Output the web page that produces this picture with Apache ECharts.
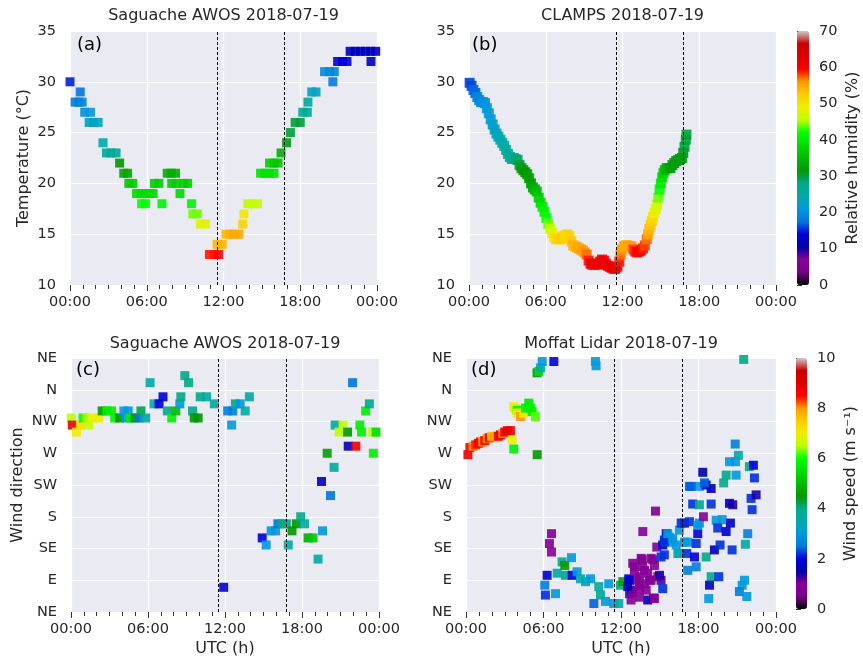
<!DOCTYPE html>
<html>
<head>
<meta charset="utf-8">
<script src="https://cdn.jsdelivr.net/npm/echarts@6/dist/echarts.min.js"></script>
<style>
  html, body { margin: 0; padding: 0; background: #fff; }
  #chart { width: 863px; height: 661px; }
</style>
</head>
<body>
<div id="chart"></div>
<script>
// (a) Saguache AWOS temperature, hours UTC / degC / RH %
const awosTime = [0.0, 0.4, 0.7, 0.95, 0.8, 1.15, 1.6, 1.5, 1.85, 2.2, 2.58, 2.85, 3.2, 3.6, 3.88, 4.2, 4.5, 4.6, 4.9,
  5.2, 5.55, 5.85, 6.2, 6.5, 5.6, 5.9, 6.6, 6.95, 7.19, 7.6, 7.9, 8.25, 7.95, 8.3, 8.9, 9.2, 8.6, 9.5, 9.6, 9.95,
  10.2, 10.6, 10.9, 11.25, 11.6, 11.5, 11.9, 12.2, 12.5, 12.85, 13.2, 13.5, 13.6, 13.9, 14.25, 14.65, 14.9, 15.25,
  15.6, 15.95, 15.6, 15.95, 16.27, 16.5, 16.93, 17.23, 17.6, 18.0, 18.2, 18.55, 18.6, 18.9, 19.23, 19.9, 20.3, 20.66,
  20.55, 20.92, 21.3, 21.65, 21.9, 22.3, 22.7, 23.1, 23.5, 23.9, 23.53];
const awosTemp = [30, 28, 28, 28, 29, 27, 27, 26, 26, 26, 24, 23, 23, 23, 22, 21, 21, 20, 20,
  19, 19, 19, 19, 19, 18, 18, 20, 20, 18, 21, 21, 21, 20, 20, 20, 20, 19, 18, 17, 17,
  16, 16, 13, 13, 13, 14, 14, 15, 15, 15, 15, 16, 17, 18, 18, 18, 21, 21,
  21, 21, 22, 22, 22, 23, 24, 25, 26, 26, 27, 27, 28, 29, 29, 31, 31, 31,
  30, 32, 32, 32, 33, 33, 33, 33, 33, 33, 32];
const awosRH = [15, 18, 18, 19, 17.5, 20, 21, 22, 23, 23, 24.5, 26.5, 26.5, 27, 31.5, 33, 33, 36, 37,
  38.5, 38.5, 38.5, 38.5, 38.5, 42, 42, 37, 37, 41, 34, 34, 34, 37, 37, 37, 37, 38, 41, 44, 44,
  48, 48, 59, 59, 59.5, 54, 54, 54, 54.5, 55, 55, 52, 50, 46, 46, 46, 39, 39,
  39, 39, 37, 37, 36, 34, 31, 30, 30, 30, 27, 27, 26, 23, 23, 19.5, 19.5, 19,
  18, 14, 14, 14, 12, 12, 12, 12, 12, 12, 12.5];

// (b) CLAMPS temperature
const clampsTime = [0.05, 0.2, 0.35, 0.5, 0.65, 0.8, 0.95, 1.1, 1.25, 1.4, 1.55, 1.7, 1.85, 2.0, 2.15, 2.3, 2.45, 2.6,
  2.75, 2.9, 3.05, 3.2, 3.35, 3.5, 3.65, 3.8, 3.95, 4.1, 4.25, 4.4, 4.55, 4.7, 4.85, 5.0, 5.15, 5.3, 5.45, 5.6, 5.75,
  5.9, 6.05, 6.2, 6.35, 6.5, 6.65, 6.8, 6.95, 7.1, 7.25, 7.4, 7.55, 7.7, 7.85, 8.0, 8.15, 8.3, 8.45, 8.6, 8.75, 8.9,
  9.05, 9.2, 9.35, 9.5, 9.65, 9.8, 9.95, 10.1, 10.25, 10.4, 10.55, 10.7, 10.85, 11.0, 11.15, 11.3, 11.45, 11.6, 11.75,
  11.85, 11.95, 12.1, 12.25, 12.4, 12.55, 12.7, 12.85, 13.0, 13.15, 13.3, 13.45, 13.6, 13.75, 13.9, 14.0, 14.1, 14.2,
  14.3, 14.4, 14.5, 14.6, 14.7, 14.8, 14.9, 15.0, 15.1, 15.2, 15.3, 15.45, 15.6, 15.75, 15.9, 16.05, 16.2, 16.35,
  16.5, 16.65, 16.75, 16.85, 16.95, 17.0];
const clampsTemp = [29.9, 29.6, 29.2, 28.9, 28.5, 28.2, 28.0, 28.0, 27.9, 27.4, 26.9, 26.3, 25.8, 25.3, 24.9, 24.6, 24.3, 24.0,
  23.7, 23.3, 22.9, 22.6, 22.4, 22.5, 22.4, 22.3, 21.8, 21.5, 21.3, 21.1, 20.9, 20.5, 20.0, 19.6, 19.4, 19.2, 18.6, 18.1, 17.7,
  17.2, 16.6, 16.0, 15.5, 15.1, 14.7, 14.5, 14.5, 14.5, 14.6, 14.8, 14.9, 15.0, 14.8, 14.3, 13.9, 13.8, 13.7, 13.6, 13.5, 13.4,
  13.2, 13.0, 12.4, 12.1, 12.0, 12.0, 12.1, 12.0, 12.3, 12.5, 12.4, 12.1, 11.9, 11.8, 11.7, 11.6, 11.6, 11.8, 12.3,
  13.0, 13.5, 13.8, 13.9, 13.9, 13.8, 13.8, 13.5, 13.3, 13.2, 13.3, 13.4, 13.6, 13.9, 14.5, 15.0, 15.5, 15.9,
  16.3, 16.7, 17.1, 17.5, 17.9, 18.6, 19.4, 20.0, 20.6, 21.0, 21.3, 21.5, 21.5, 21.5, 21.8, 22.0, 22.2, 22.3,
  22.4, 22.5, 23.0, 23.6, 24.3, 24.8];
const clampsRH = [16, 16, 17, 17, 19, 19, 19.5, 20, 20, 21, 21, 21.5, 22, 22.5, 23, 23.5, 24, 24.5,
  25, 25.5, 26, 27, 27, 28, 28, 29, 30, 31, 31, 31.5, 32, 32, 32, 33, 34, 35, 37, 38, 40,
  41, 42, 44, 46, 48, 50, 51, 52, 52, 53, 52, 51, 51, 52, 53, 54, 54, 55, 55, 55, 56,
  56, 57, 59, 60, 61, 61, 61, 61, 61, 61, 61, 61, 61, 61, 62, 62, 62, 61, 59,
  57, 56, 55, 55, 55, 55, 56, 58, 59, 60, 60, 60, 59, 58, 57, 55, 54, 53,
  52, 51, 49, 48, 47, 44, 42, 40, 39, 37, 36, 34, 33, 32, 32, 31, 31, 31,
  31, 31, 31, 30, 30, 30];

// (c) Saguache AWOS wind, direction in degrees (45 = NE ... 405 = NE), speed m/s
const awosWindTime = [0.02, 0.1, 0.42, 0.73, 0.94, 1.25, 1.38, 1.77, 2.17, 2.43, 2.8, 3.16, 3.4, 3.78, 4.12, 4.3, 4.46,
  4.64, 4.98, 5.3, 5.45, 5.82, 6.16, 6.47, 6.86, 7.17, 7.51, 7.85, 8.17, 8.48, 8.56, 8.87, 9.16, 9.47, 9.6, 9.91,
  10.07, 10.57, 11.17, 11.9, 12.21, 12.6, 12.52, 12.81, 13.18, 13.57, 13.9, 14.9, 15.21, 15.6, 15.94, 16.12, 16.46,
  16.78, 16.93, 17.22, 17.56, 17.9, 18.2, 18.47, 18.86, 19.25, 19.6, 19.52, 20.22, 20.5, 19.96, 20.58, 20.9, 21.2,
  21.55, 21.6, 22.2, 21.94, 22.51, 22.64, 22.96, 23.25, 23.5, 23.77, 23.56];
const awosWindDir = [320, 310, 300, 310, 320, 320, 310, 320, 320, 330, 330, 330, 320, 320, 330, 320, 330,
  320, 320, 320, 330, 320, 370, 340, 340, 350, 330, 320, 330, 340, 350, 380, 370, 330, 320, 320,
  350, 350, 340, 80, 330, 330, 310, 340, 340, 330, 350, 150, 140, 160, 160, 170, 170,
  170, 140, 160, 170, 180, 170, 150, 150, 120, 160, 230, 210, 250, 270, 310, 300, 310,
  300, 280, 280, 370, 310, 300, 330, 340, 300, 300, 270];
const awosWindSpd = [6.5, 8.8, 7.0, 7.3, 6.0, 6.5, 6.6, 7.0, 7.0, 4.5, 5.8, 5.8, 5.8, 4.5, 3.0, 3.0, 3.0,
  5.8, 4.5, 2.5, 4.2, 3.5, 3.5, 3.6, 2.0, 2.0, 4.0, 5.8, 5.0, 3.0, 4.0, 4.0, 4.0, 4.0, 4.5, 4.5,
  4.0, 3.6, 3.6, 2.0, 2.6, 2.6, 3.0, 4.0, 3.0, 3.5, 3.6, 2.0, 3.0, 3.0, 3.0, 2.5, 4.0,
  4.0, 3.6, 4.5, 4.5, 4.0, 3.6, 4.8, 5.2, 3.6, 3.0, 1.8, 2.5, 3.6, 4.6, 3.6, 6.5, 6.5,
  4.5, 1.6, 8.8, 2.5, 5.8, 5.8, 5.8, 4.0, 6.5, 5.5, 5.8];

// (d) Moffat lidar wind
const lidarTime = [0.15, 0.3, 0.55, 0.75, 0.95, 1.12, 1.3, 1.45, 1.64, 1.8, 1.97, 2.15, 2.34, 2.5, 2.67, 2.85, 3.0, 3.2,
  3.44, 3.57, 3.7, 3.7, 3.85, 3.96, 3.96, 4.22, 4.47, 4.6, 4.86, 4.99, 5.12, 5.38, 5.51, 5.5, 5.64, 5.77, 5.9, 6.8,
  10.02, 10.07, 21.5, 6.62, 6.46, 6.62, 6.28, 6.1, 6.15, 6.93, 7.06, 7.44, 7.65, 8.17, 7.7, 8.22, 8.6, 8.86, 9.25,
  9.64, 9.9, 10.28, 10.41, 10.8, 11.05, 11.44, 11.83, 11.96, 12.14, 12.6, 12.66, 12.79, 14.67, 13.69, 14.77, 12.91,
  13.64, 14.46, 14.59, 13.04, 13.43, 13.82, 14.2, 14.85, 15.1, 12.91, 13.43, 13.95, 14.51, 14.07, 15.23, 15.5, 15.75,
  15.36, 16.0, 16.27, 15.23, 15.1, 16.52, 16.52, 16.91, 17.3, 18.07, 17.17, 17.09, 17.69, 17.82, 17.94, 18.59, 17.17,
  17.82, 17.3, 18.07, 18.59, 18.98, 18.33, 17.55, 18.07, 18.98, 18.38, 19.37, 19.83, 19.49, 20.14, 20.47, 19.23,
  19.67, 20.6, 20.4, 20.65, 21.81, 21.63, 22.15, 22.07, 22.46, 22.33, 20.14, 20.91, 18.98, 19.57, 18.85, 21.56,
  21.38, 21.17, 21.74, 18.79, 20.84, 21.09, 20.4, 20.86, 21.94, 22.25, 19.95, 18.46, 17.43,
  13.56, 14.33, 13.69, 14.07, 13.3, 13.82, 14.33, 13.43, 12.78, 13.43, 14.59, 13.04, 14.98, 12.65, 12.52, 15.36,
  15.36, 15.62, 16.0, 16.4, 16.66, 17.94, 16.91];
const lidarDir = [268, 278, 280, 282, 284, 286, 286, 288, 291, 292, 294, 293, 294, 294, 296, 298, 300, 302,
  302, 289, 276, 336, 333, 331, 327, 322, 327, 334, 341, 334, 329, 322, 268, 384, 386, 391, 400, 400,
  400, 394, 403, 156, 142, 130, 97, 83, 69, 71, 100, 116, 111, 122, 97, 97, 102, 92, 88,
  92, 57, 81, 69, 60, 85, 57, 57, 83, 88, 92, 71, 76, 188, 159, 137, 114,
  119, 119, 111, 102, 95, 104, 90, 95, 90, 73, 83, 76, 65, 62, 78, 156, 151,
  147, 144, 140, 140, 123, 128, 161, 171, 173, 171, 144, 128, 123, 142, 156, 123, 104,
  109, 223, 223, 225, 220, 243, 198, 197, 198, 180, 175, 176, 164, 159, 171, 133,
  140, 133, 199, 197, 156, 141, 190, 206, 211, 235, 239, 239, 95, 95, 83, 90,
  83, 74, 67, 64, 283, 267, 258, 258, 251, 253, 228, 228, 223,
  121, 121, 109, 100, 90, 85, 90, 78, 62, 66, 64, 109, 97, 90, 81, 126,
  144, 156, 149, 128, 171, 168, 144];
const lidarSpd = [8.8, 8.6, 8.0, 8.4, 8.8, 8.6, 7.8, 8.6, 8.0, 8.8, 7.6, 8.0, 7.8, 8.6, 8.8, 8.0, 8.8, 8.8,
  8.8, 7.0, 5.8, 7.0, 6.6, 5.8, 7.0, 8.0, 7.0, 5.8, 5.6, 5.8, 5.8, 6.2, 4.5, 4.5, 5.5, 3.6, 3.0, 2.0,
  3.0, 3.0, 4.0, 0.9, 0.9, 1.0, 1.8, 2.6, 2.2, 3.0, 3.5, 4.0, 4.5, 3.0, 4.0, 2.0, 3.0, 3.5, 3.5,
  3.0, 2.4, 3.6, 3.8, 3.0, 3.0, 3.0, 3.6, 4.0, 4.6, 1.8, 2.2, 1.3, 0.8, 0.9, 0.9, 0.9,
  0.9, 0.9, 0.9, 0.9, 0.9, 0.9, 0.9, 0.9, 1.2, 0.9, 0.9, 0.9, 0.9, 1.6, 2.2, 1.8, 3.0,
  2.2, 3.0, 3.0, 1.8, 2.2, 3.0, 3.0, 1.6, 2.2, 3.0, 3.0, 2.2, 2.0, 2.2, 2.0, 4.0, 2.6,
  2.6, 2.4, 3.0, 2.0, 1.6, 1.5, 2.2, 4.0, 2.2, 1.0, 3.0, 3.0, 2.2, 1.8, 1.8, 1.6,
  2.2, 2.2, 1.8, 1.4, 2.6, 3.6, 2.2, 2.2, 1.4, 2.2, 4.0, 3.0, 3.8, 2.2, 1.8, 3.0,
  3.0, 2.6, 3.0, 3.0, 2.6, 3.6, 3.0, 3.0, 4.0, 2.0, 4.0, 2.4, 2.4,
  0.9, 0.9, 0.9, 0.9, 0.9, 0.9, 0.9, 0.9, 0.9, 0.9, 0.9, 0.9, 1.4, 2.0, 1.6, 2.2,
  2.2, 3.0, 3.0, 3.4, 2.2, 3.0, 3.0];

// dashed reference times (h UTC)
const markTimes = [11.5, 16.75];
const tempTicks = [10, 35, 5];
const dirNames = ['NE', 'E', 'SE', 'S', 'SW', 'W', 'NW', 'N', 'NE'];
const panelTitles = ['Saguache AWOS 2018-07-19', 'CLAMPS 2018-07-19', 'Saguache AWOS 2018-07-19', 'Moffat Lidar 2018-07-19'];
const panelTags = ['(a)', '(b)', '(c)', '(d)'];

// nipy_spectral
const nipy = ['#000000', '#770088', '#880099', '#0000aa', '#0000dd', '#0077dd', '#0099dd', '#00aaaa', '#00aa88',
  '#009900', '#00bb00', '#00dd00', '#00ff00', '#bbff00', '#eeee00', '#ffcc00', '#ff9900', '#ff0000', '#dd0000',
  '#cc0000', '#cccccc'];

const FONT = 'DejaVu Sans';
const TXT = '#262626';

const grids = [
  {left: 70, top: 31, width: 307, height: 254},
  {left: 469, top: 31, width: 307, height: 254},
  {left: 71, top: 358, width: 308, height: 254},
  {left: 466, top: 358, width: 310, height: 254},
  {left: 797, top: 31, width: 12, height: 254},
  {left: 796, top: 358, width: 11, height: 251}
];

function zip(t, a, b) { return t.map((v, i) => [v, a[i], b[i]]); }

function timeAxis(i, withName) {
  return {
    type: 'value', gridIndex: i, min: 0, max: 24, interval: 6,
    name: withName ? 'UTC (h)' : '', nameLocation: 'middle', nameGap: 29,
    nameTextStyle: {fontFamily: FONT, fontSize: 16, color: TXT},
    axisLine: {show: false},
    axisTick: {show: true, length: 6, lineStyle: {color: '#333', width: 1}},
    minorTick: {show: true, splitNumber: 6, length: 4, lineStyle: {color: '#333', width: 1}},
    splitLine: {show: true, lineStyle: {color: '#fff', width: 1.2}},
    axisLabel: {margin: 10, fontFamily: FONT, fontSize: 14.5, color: TXT,
      formatter: v => String(v % 24).padStart(2, '0') + ':00'}
  };
}

function tempAxis(i, name) {
  return {
    type: 'value', gridIndex: i, min: tempTicks[0], max: tempTicks[1], interval: tempTicks[2],
    name: name, nameLocation: 'middle', nameGap: 38,
    nameTextStyle: {fontFamily: FONT, fontSize: 16, color: TXT},
    axisLine: {show: false}, axisTick: {show: false},
    splitLine: {show: true, lineStyle: {color: '#fff', width: 1.2}},
    axisLabel: {margin: 14, fontFamily: FONT, fontSize: 14.5, color: TXT}
  };
}

function dirAxis(i, name) {
  return {
    type: 'value', gridIndex: i, min: 45, max: 405, interval: 45,
    name: name, nameLocation: 'middle', nameGap: 45,
    nameTextStyle: {fontFamily: FONT, fontSize: 16, color: TXT},
    axisLine: {show: false}, axisTick: {show: false},
    splitLine: {show: true, lineStyle: {color: '#fff', width: 1.2}},
    axisLabel: {margin: 14, fontFamily: FONT, fontSize: 14.5, color: TXT,
      formatter: v => dirNames[Math.round((v - 45) / 45)]}
  };
}

function barAxis(i, max, step, name) {
  return {
    type: 'value', gridIndex: i, position: 'right', min: 0, max: max, interval: step,
    name: name, nameLocation: 'middle', nameGap: 36, nameRotate: 90,
    nameTextStyle: {fontFamily: FONT, fontSize: 16, color: TXT},
    axisLine: {show: false}, splitLine: {show: false},
    axisTick: {show: true, length: 5, lineStyle: {color: '#333', width: 1}},
    axisLabel: {margin: 10, fontFamily: FONT, fontSize: 14.5, color: TXT}
  };
}

function scatter(i, data) {
  return {
    type: 'scatter', xAxisIndex: i, yAxisIndex: i, data: data,
    symbol: 'rect', symbolSize: 9, itemStyle: {opacity: 0.9}, silent: true, z: 2
  };
}

function dashLines(i) {
  return {
    type: 'line', xAxisIndex: i, yAxisIndex: i, data: [], silent: true, z: 5,
    markLine: {
      silent: true, symbol: ['none', 'none'], label: {show: false}, animation: false,
      lineStyle: {color: '#000', type: [3, 2], width: 1},
      data: markTimes.map(t => ({xAxis: t}))
    }
  };
}

const graphics = [];
const centers = [[223.5, 16], [622.5, 16], [225, 344], [621, 344]];
const tagPos = [[77, 36], [472, 36], [76, 361], [471, 361]];
panelTitles.forEach((t, i) => {
  graphics.push({type: 'text', x: centers[i][0], y: centers[i][1],
    style: {text: t, font: '16px "DejaVu Sans"', fill: TXT, textAlign: 'center', textVerticalAlign: 'middle'}});
  graphics.push({type: 'text', x: tagPos[i][0], y: tagPos[i][1],
    style: {text: panelTags[i], font: '18px "DejaVu Sans"', fill: '#000', textAlign: 'left', textVerticalAlign: 'top'}});
});

const chart = echarts.init(document.getElementById('chart'));
const pointSeries = [scatter(0, zip(awosTime, awosTemp, awosRH)), scatter(1, zip(clampsTime, clampsTemp, clampsRH)),
  scatter(2, zip(awosWindTime, awosWindDir, awosWindSpd)), scatter(3, zip(lidarTime, lidarDir, lidarSpd))];
pointSeries[1].symbolSize = 10;

chart.setOption({
  animation: false,
  backgroundColor: '#fff',
  textStyle: {fontFamily: FONT},
  grid: grids.map((g, i) => Object.assign({show: i < 4, backgroundColor: '#eaeaf2', borderWidth: 0}, g)),
  xAxis: [timeAxis(0, false), timeAxis(1, false), timeAxis(2, true), timeAxis(3, true),
    {type: 'value', gridIndex: 4, min: 0, max: 1, show: false},
    {type: 'value', gridIndex: 5, min: 0, max: 1, show: false}],
  yAxis: [tempAxis(0, 'Temperature (°C)'), tempAxis(1, ''), dirAxis(2, 'Wind direction'), dirAxis(3, ''),
    barAxis(4, 70, 10, 'Relative humidity (%)'), barAxis(5, 10, 2, 'Wind speed (m s⁻¹)')],
  visualMap: [
    {type: 'continuous', min: 0, max: 70, dimension: 2, seriesIndex: [0, 1], inRange: {color: nipy},
      orient: 'vertical', left: 797, top: 31, itemWidth: 12, itemHeight: 254, padding: 0,
      calculable: false, hoverLink: false},
    {type: 'continuous', min: 0, max: 10, dimension: 2, seriesIndex: [2, 3], inRange: {color: nipy},
      orient: 'vertical', left: 796, top: 358, itemWidth: 11, itemHeight: 251, padding: 0,
      calculable: false, hoverLink: false}
  ],
  series: pointSeries.concat([dashLines(0), dashLines(1), dashLines(2), dashLines(3)]),
  graphic: graphics
});
</script>
</body>
</html>
